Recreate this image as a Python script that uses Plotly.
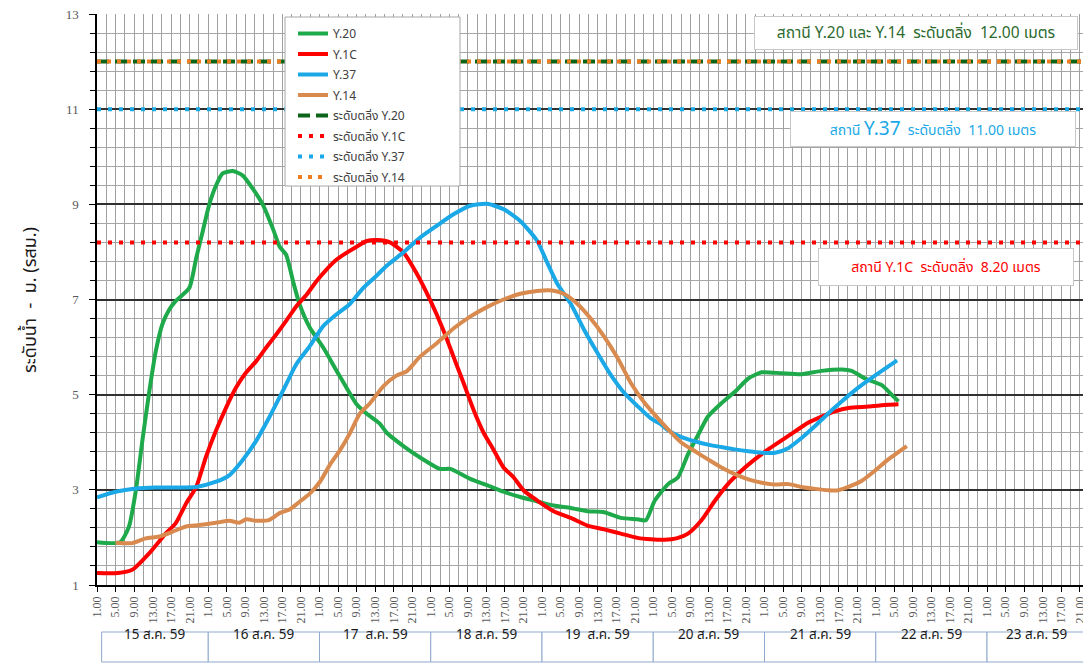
import plotly.graph_objects as go

# ---------------- data (hours counted from 15 Aug 59, 00:00) ----------------
DAYS = ["15 ส.ค. 59", "16 ส.ค. 59", "17  ส.ค. 59", "18 ส.ค. 59", "19  ส.ค. 59",
        "20 ส.ค. 59", "21 ส.ค. 59", "22 ส.ค. 59", "23 ส.ค. 59"]
HOUR_LABELS = ["1.00", "5.00", "9.00", "13.00", "17.00", "21.00"]

Y20_H = [1, 6, 7.9, 9.4, 10.8, 12.3, 13.7, 15.1, 16.6, 18, 20.9, 22.4, 23.8, 25.2, 26.7, 28.1,
         30.3, 32.4, 34.6, 36.8, 38.9, 40.4, 41.8, 43.3, 44.7, 46.9, 49.8, 52.7, 54.8, 57, 59.2,
         62, 63.5, 67.1, 70.7, 75, 77.2, 81.5, 85.1, 88.7, 92.3, 95.9, 99.5, 103.2, 106.8, 110.4,
         114, 117.6, 119.4, 121.3, 124.2, 126.3, 128.5, 130.7, 132.8, 135.7, 138.6, 141.5, 144.4,
         148.7, 153, 157.3, 161.7, 163.8, 166.7, 170.3, 172.1, 173.9]
Y20_V = [1.9, 1.9, 2.23, 3.0, 4.04, 5.08, 5.92, 6.48, 6.79, 6.97, 7.24, 7.87, 8.43, 8.99, 9.40, 9.65,
         9.70, 9.61, 9.33, 8.99, 8.50, 8.11, 7.94, 7.38, 6.90, 6.41, 5.99, 5.50, 5.15, 4.80, 4.60,
         4.39, 4.20, 3.92, 3.68, 3.44, 3.44, 3.23, 3.10, 2.96, 2.85, 2.76, 2.67, 2.62, 2.55, 2.53,
         2.41, 2.38, 2.36, 2.77, 3.12, 3.26, 3.75, 4.16, 4.54, 4.82, 5.06, 5.34, 5.47,
         5.45, 5.43, 5.50, 5.53, 5.50, 5.34, 5.20, 5.03, 4.86]

Y1C_H = [1, 5.5, 8.6, 12.3, 15.9, 18, 20.2, 22.4, 24.5, 26.7, 28.9, 31, 33.2, 35.4, 37.5, 39.7,
         41.8, 44, 46.2, 48.3, 50.5, 52.7, 54.8, 57, 59.2, 61.5, 64.2, 67.1, 70, 72.9, 75.7, 77.9,
         80.1, 82.2, 84.4, 86.5, 88.7, 90.9, 93.1, 95.9, 99.5, 103.2, 106.8, 110.4, 114, 117.6,
         120.5, 123.5, 126, 128.5, 131.4, 134.3, 137.1, 140, 142.9, 145.8, 148.7, 151.6, 154.4,
         157.3, 160.2, 163.1, 167.4, 171.7, 173.9]
Y1C_V = [1.25, 1.25, 1.32, 1.67, 2.09, 2.30, 2.71, 3.06, 3.69, 4.25, 4.74, 5.15, 5.47, 5.71, 5.99, 6.27,
         6.55, 6.86, 7.10, 7.38, 7.63, 7.84, 7.98, 8.11, 8.23, 8.25, 8.20, 7.99, 7.54, 6.98, 6.36, 5.80,
         5.24, 4.69, 4.20, 3.85, 3.47, 3.26, 2.98, 2.78, 2.55, 2.41, 2.25, 2.17, 2.08, 1.99,
         1.96, 1.95, 1.98, 2.08, 2.36, 2.77, 3.12, 3.40, 3.64, 3.85, 4.04, 4.23, 4.41,
         4.54, 4.65, 4.72, 4.75, 4.79, 4.80]

Y37_H = [1, 5, 9.4, 13.7, 18, 22.4, 26.7, 29.6, 32.4, 35.4, 38.2, 41.1, 44, 46.9, 49.8, 52.7, 55.5,
         58.4, 61.3, 63.5, 67.1, 70.7, 74.3, 77.9, 81.5, 85.1, 88.7, 92.3, 95.9, 98.1, 100.3, 103.2,
         106.1, 109, 111.8, 114.7, 117.6, 120.5, 122.6, 124.2, 127.1, 130, 132.8, 135.7, 138.6,
         141.5, 144.4, 147.3, 150.2, 153, 155.9, 158.8, 161.7, 164.6, 167.5, 170.3, 173.6]
Y37_V = [2.84, 2.96, 3.03, 3.05, 3.05, 3.06, 3.17, 3.31, 3.62, 4.04, 4.53, 5.08, 5.64, 6.02, 6.44, 6.69, 6.90,
         7.24, 7.50, 7.71, 7.99, 8.30, 8.55, 8.79, 8.97, 9.01, 8.90, 8.65, 8.24, 7.78, 7.33, 6.91,
         6.36, 5.87, 5.42, 5.04, 4.76, 4.50, 4.38, 4.25, 4.11, 4.02, 3.95, 3.90, 3.85,
         3.81, 3.78, 3.78, 3.88, 4.09, 4.34, 4.61, 4.86, 5.10, 5.31, 5.50, 5.72]

Y14_H = [5, 8.6, 11.5, 14.4, 17.3, 20.2, 23.1, 26.7, 29.6, 31.7, 33.2, 35.4, 38.2, 40.4, 42.6, 44.7,
         46.9, 49.1, 51.2, 53.4, 55.5, 57.7, 59.9, 62.8, 65.6, 67.8, 70.7, 74.3, 77.9, 81.5, 85.1,
         88.7, 92.3, 95.9, 99.2, 101.7, 104.6, 107.5, 110.4, 113.3, 116.2, 119.1, 121.3, 124.2,
         127.1, 130, 132.8, 135.7, 138.6, 141.5, 144.4, 147.3, 150.2, 153, 155.9, 158.8, 160.9,
         163.1, 166, 168.8, 171.7, 175.7]
Y14_V = [1.89, 1.88, 1.98, 2.02, 2.12, 2.23, 2.26, 2.31, 2.35, 2.31, 2.38, 2.35, 2.37, 2.51, 2.59, 2.75,
         2.92, 3.17, 3.52, 3.83, 4.18, 4.60, 4.82, 5.18, 5.40, 5.49, 5.80, 6.08, 6.39, 6.64, 6.84,
         7.00, 7.12, 7.18, 7.19, 7.12, 6.91, 6.60, 6.22, 5.77, 5.24, 4.83, 4.58, 4.27,
         3.99, 3.81, 3.64, 3.47, 3.33, 3.22, 3.15, 3.11, 3.12, 3.06, 3.02, 2.99, 2.99,
         3.06, 3.19, 3.40, 3.64, 3.92]

BANK_Y20 = 12.00
BANK_Y1C = 8.20
BANK_Y37 = 11.00
BANK_Y14 = 12.00

# ---------------- styling ----------------
X_MIN, X_MAX = 1, 215
THAI = "Tahoma, 'Noto Sans Thai', 'Noto Sans', 'DejaVu Sans', sans-serif"
C_Y20, C_Y1C, C_Y37, C_Y14 = "#1EAA4A", "#FF0000", "#1AA8E6", "#D98B4F"
C_B20, C_B1C, C_B37, C_B14 = "#0B6418", "#FF0000", "#1AA8E6", "#EE7D22"

fig = go.Figure()
for i, (name, h, v, c) in enumerate([("Y.20", Y20_H, Y20_V, C_Y20), ("Y.1C", Y1C_H, Y1C_V, C_Y1C),
                                      ("Y.37", Y37_H, Y37_V, C_Y37), ("Y.14", Y14_H, Y14_V, C_Y14)]):
    fig.add_trace(go.Scatter(x=h, y=v, name=name, mode="lines", legendgroup=f"g{i}",
                             line=dict(color=c, width=4, shape="spline", smoothing=0.6)))

for i, (name, lvl, c, dash) in enumerate([("ระดับตลิ่ง Y.20", BANK_Y20, C_B20, "12px,6px"),
                                          ("ระดับตลิ่ง Y.1C", BANK_Y1C, C_B1C, "4px,7px"),
                                          ("ระดับตลิ่ง Y.37", BANK_Y37, C_B37, "4px,7px"),
                                          ("ระดับตลิ่ง Y.14", BANK_Y14, C_B14, "4px,6px")]):
    fig.add_trace(go.Scatter(x=[X_MIN, X_MAX], y=[lvl, lvl], name=name, mode="lines",
                             legendgroup=f"b{i}",
                             line=dict(color=c, width=4, dash=dash)))

tickvals = [1 + 24 * d + 4 * i for d in range(len(DAYS)) for i in range(len(HOUR_LABELS))]
ticktext = [HOUR_LABELS[i] for d in range(len(DAYS)) for i in range(len(HOUR_LABELS))]

# page body has an 8px margin -> figure is offset by 8px; size compensates
TOP_M = 6
PLOT_H = 657 - TOP_M - 80          # plot height in px
def py(ypx):                        # page pixel row -> paper y
    return (585 - ypx) / PLOT_H
def px(xpx):                        # page pixel column -> paper x
    return (xpx - 97) / 992

fig.update_layout(
    width=1083, height=657,
    margin=dict(l=89, r=2, t=TOP_M, b=80, autoexpand=False),
    paper_bgcolor="white", plot_bgcolor="white",
    showlegend=True,
    legend=dict(x=px(293), y=py(19), xanchor="left", yanchor="top",
                bgcolor="rgba(0,0,0,0)", borderwidth=0,
                font=dict(family=THAI, size=12, color="#404040"),
                tracegroupgap=1.5),
    xaxis=dict(range=[X_MIN, X_MAX], tickmode="array", tickvals=tickvals, ticktext=ticktext,
               tickangle=-90, tickfont=dict(family="'Liberation Serif', serif", size=12, color="#595959"),
               showgrid=True, gridcolor="#A0A0A0", gridwidth=1.3, automargin=False,
               minor=dict(tick0=1, dtick=2, showgrid=True, gridcolor="#A0A0A0", gridwidth=1.3),
               ticks="outside", ticklen=5, tickcolor="black",
               showline=True, linecolor="black", linewidth=1.5, zeroline=False),
    yaxis=dict(range=[1, 13], tick0=1, dtick=2, automargin=False,
               tickfont=dict(family="'Liberation Serif', serif", size=13, color="#595959"),
               showgrid=True, gridcolor="#303030", gridwidth=1.5,
               minor=dict(tick0=1, dtick=0.4, showgrid=True, gridcolor="#A6A6A6", gridwidth=1.2,
                          ticks="outside", ticklen=5, tickcolor="black"),
               ticks="outside", ticklen=6, tickcolor="black", ticklabelstandoff=8,
               ticklabeloverflow="allow",
               showline=True, linecolor="black", linewidth=1.5, zeroline=False),
)

# legend frame
fig.add_shape(type="rect", xref="paper", yref="paper", x0=px(285), x1=px(460), y0=py(186), y1=py(17),
              line=dict(color="#A6A6A6", width=1), fillcolor="white", layer="above")

# y axis title
fig.add_annotation(text="ระดับน้ำ  -  ม. (รสม.)", xref="paper", yref="paper", x=px(30), y=py(300),
                   textangle=-90, showarrow=False, xanchor="center", yanchor="middle",
                   font=dict(family=THAI, size=18, color="#1a1a1a"))

# station annotations
common = dict(xref="paper", yref="paper", showarrow=False, xanchor="center", yanchor="middle",
              bgcolor="white", bordercolor="#C8C8C8", borderwidth=1, borderpad=2)
fig.add_annotation(text="สถานี Y.20 และ Y.14  ระดับตลิ่ง  12.00 เมตร",
                   x=px(915.5), y=py(33.5), width=318, height=28,
                   font=dict(family=THAI, size=15.5, color="#2D6A2F"), **common)
fig.add_annotation(text="สถานี <span style='font-size:19px'>Y.37</span>  ระดับตลิ่ง  11.00 เมตร",
                   x=px(932.5), y=py(129), width=280, height=30,
                   font=dict(family=THAI, size=14, color="#1AA8E6"), **common)
fig.add_annotation(text="สถานี Y.1C  ระดับตลิ่ง  8.20 เมตร",
                   x=px(945.5), y=py(266.5), width=250, height=32,
                   font=dict(family=THAI, size=14, color="#FF0000"), **common)

# date boxes under the axis
Y_TOP, Y_BOT = py(632), py(662)
for d, label in enumerate(DAYS):
    x0 = 1 + 24 * d if d > 0 else 2
    x1 = min(1 + 24 * (d + 1), X_MAX - 0.5)
    fig.add_shape(type="rect", xref="x", yref="paper", x0=x0, x1=x1, y0=Y_BOT, y1=Y_TOP,
                  line=dict(color="#8FA9CC", width=1), fillcolor="white", layer="above")
    fig.add_annotation(text=label, xref="x", yref="paper", x=(x0 + x1) / 2, y=(Y_TOP + Y_BOT) / 2,
                       showarrow=False, font=dict(family=THAI, size=13.5, color="#1a1a1a"))

fig.write_html("out.html")
